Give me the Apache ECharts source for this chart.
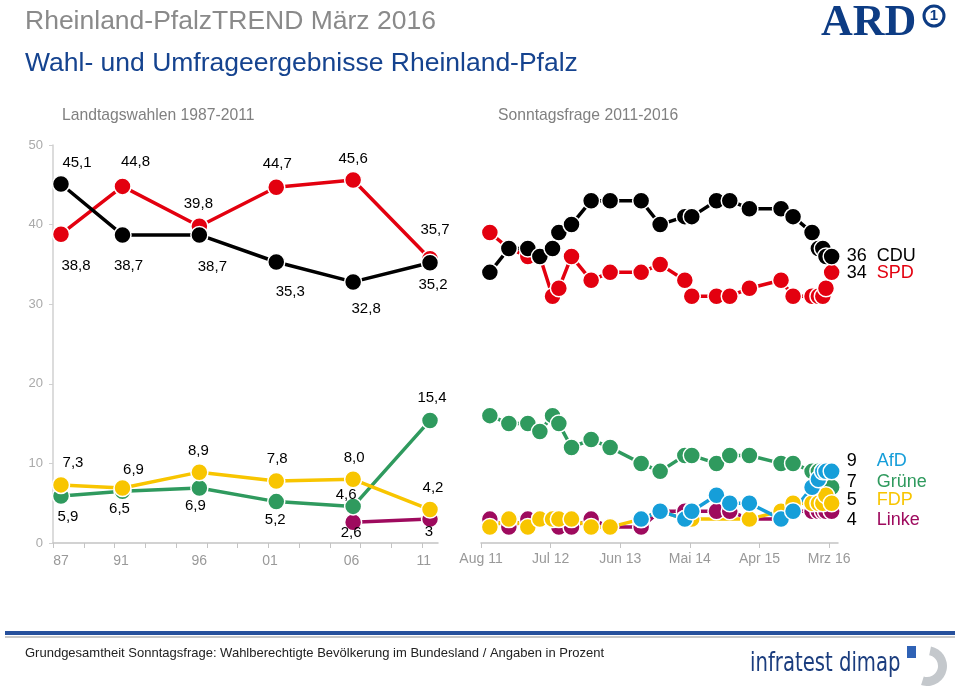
<!DOCTYPE html>
<html><head><meta charset="utf-8">
<script src="https://cdn.jsdelivr.net/npm/echarts@6/dist/echarts.min.js"></script>
<style>html,body{margin:0;padding:0;background:#fff}#c{width:960px;height:686px}</style>
</head><body><div id="c"></div>
<script>
// ---- data ----
const electionYears = [1987, 1991, 1996, 2001, 2006, 2011];
const electionTickLabels = ['87', '91', '96', '01', '06', '11'];
const electionTickPos = [1987, 1990.9, 1996, 2000.6, 2005.9, 2010.6];
const cduElection = [45.1, 38.7, 38.7, 35.3, 32.8, 35.2];
const spdElection = [38.8, 44.8, 39.8, 44.7, 45.6, 35.7];
const fdpElection = [7.3, 6.9, 8.9, 7.8, 8.0, 4.2];
const grueneElection = [5.9, 6.5, 6.9, 5.2, 4.6, 15.4];
const linkeElection = [null, null, null, null, 2.6, 3];

// poll dates as months after Aug 2011
const pollMonths = [1.4, 4.4, 7.4, 9.3, 11.3, 12.3, 14.3, 17.4, 20.4, 25.3, 28.3, 32.2, 33.3, 37.2, 39.3, 42.4, 47.4, 49.3, 52.3, 53.3, 54.0, 54.5, 55.4];
const cduPoll = [34, 37, 37, 36, 37, 39, 40, 43, 43, 43, 40, 41, 41, 43, 43, 42, 42, 41, 39, 37, 37, 36, 36];
const spdPoll = [39, 37, 36, 36, 31, 32, 36, 33, 34, 34, 35, 33, 31, 31, 31, 32, 33, 31, 31, 31, 31, 32, 34];
const gruenePoll = [16, 15, 15, 14, 16, 15, 12, 13, 12, 10, 9, 11, 11, 10, 11, 11, 10, 10, 9, 9, 9, 9, 7];
const fdpPoll = [2, 3, 2, 3, 3, 3, 3, 2, 2, 3, 4, 3, 3, null, null, 3, 4, 5, 5, 5, 5, 6, 5];
const linkePoll = [3, 2, 3, 3, 3, 2, 2, 3, 2, 2, 4, 4, 4, 4, 4, 3, 3, 4, 4, 4, 4, 4, 4];
const afdPoll = [null, null, null, null, null, null, null, null, null, 3, 4, 3, 4, 6, 5, 5, 3, 4, 7, 8, 9, 9, 9];
const pollTickMonths = [0, 11, 22, 33, 44, 55];
const pollTickLabels = ['Aug 11', 'Jul 12', 'Jun 13', 'Mai 14', 'Apr 15', 'Mrz 16'];

// ---- styling ----
const COL = { cdu: '#000000', spd: '#e3000f', gruene: '#2f9a5e', fdp: '#f8c500', linke: '#9e0a5e', afd: '#169ed9' };
const FONT = '"Liberation Sans", Arial, Helvetica, sans-serif';
const labelOffsets = {
  cdu: [[16, -21], [6, 31], [13, 32], [14, 30], [13, 27], [3, 22]],
  spd: [[15, 32], [13, -25], [-1, -22], [1, -23], [0, -21], [5, -29]],
  fdp: [[12, -22], [11, -18], [-1, -21], [1, -22], [1, -21], [3, -22]],
  gruene: [[7, 21], [-3, 18], [-4, 18], [-1, 18], [-7, -12], [2, -23]],
  linke: [null, null, null, null, [-2, 11], [-1, 13]]
};
const endOffsets = { cdu: 0, spd: 1, afd: -10, gruene: -5, fdp: -3, linke: 9 };
const endNames = { cdu: 'CDU', spd: 'SPD', afd: 'AfD', gruene: 'Grüne', fdp: 'FDP', linke: 'Linke' };

const fmtDec = v => v.toFixed(1).replace('.', ',');
const fmtPlain = v => String(v).replace('.', ',');

function electionSeries(key, vals, fmt) {
  return {
    type: 'line', xAxisIndex: 0, yAxisIndex: 0,
    data: electionYears.map((y, i) => vals[i] == null ? [y, null] : {
      value: [y, vals[i]],
      label: { show: true, position: 'inside', offset: labelOffsets[key][i], formatter: fmt(vals[i]) }
    }),
    symbol: 'circle', symbolSize: 17,
    itemStyle: { color: COL[key], borderColor: '#fff', borderWidth: 1.5 },
    lineStyle: { color: COL[key], width: 3.5 },
    label: { color: '#000', fontSize: 15, fontFamily: FONT },
    emphasis: { disabled: true },
    animation: false
  };
}
function pollSeries(key, vals) {
  return {
    type: 'line', xAxisIndex: 1, yAxisIndex: 1,
    data: pollMonths.map((m, i) => [m, vals[i]]),
    connectNulls: true,
    symbol: 'circle', symbolSize: 17,
    itemStyle: { color: COL[key], borderColor: '#fff', borderWidth: 1.5 },
    lineStyle: { color: COL[key], width: 3.5 },
    endLabel: {
      show: true, distance: 15, offset: [0, endOffsets[key]],
      formatter: p => '{n|' + p.value[1] + '}{t|' + endNames[key] + '}',
      rich: {
        n: { color: '#000', fontSize: 18, fontFamily: FONT, width: 30 },
        t: { color: COL[key], fontSize: 18, fontFamily: FONT }
      }
    },
    emphasis: { disabled: true },
    animation: false
  };
}

const chart = echarts.init(document.getElementById('c'));
chart.setOption({
  animation: false,
  backgroundColor: '#fff',
  textStyle: { fontFamily: FONT },
  grid: [
    { left: 53, top: 145, width: 385, height: 398 },
    { left: 481, top: 145, width: 357, height: 398 }
  ],
  xAxis: [
    {
      gridIndex: 0, type: 'value', min: 1986.48, max: 2011.52,
      axisLine: { lineStyle: { color: '#c4c4c4', width: 1.5 } },
      axisTick: { show: true, length: 5, lineStyle: { color: '#c4c4c4', width: 1 },
        customValues: [1986.48, 1988.48, 1990.48, 1992.48, 1994.48, 1996.48, 1998.48, 2000.48, 2002.48, 2004.48, 2006.48, 2008.48, 2010.48] },
      axisLabel: { customValues: electionTickPos, color: '#999', fontSize: 14, margin: 11,
        formatter: v => electionTickLabels[electionTickPos.indexOf(v)] },
      splitLine: { show: false }
    },
    {
      gridIndex: 1, type: 'value', min: 0, max: 56.4,
      axisLine: { lineStyle: { color: '#c4c4c4', width: 1.5 } },
      axisTick: { show: true, length: 5, lineStyle: { color: '#c4c4c4', width: 1 }, customValues: pollTickMonths },
      axisLabel: { customValues: pollTickMonths, color: '#999', fontSize: 14, margin: 9,
        formatter: v => pollTickLabels[pollTickMonths.indexOf(v)] },
      splitLine: { show: false }
    }
  ],
  yAxis: [
    {
      gridIndex: 0, type: 'value', min: 0, max: 50, interval: 10,
      axisLine: { show: true, lineStyle: { color: '#d0d0d0', width: 1.5 } },
      axisTick: { show: true, length: 4, lineStyle: { color: '#d0d0d0' } },
      axisLabel: { color: '#aaa', fontSize: 13, margin: 10 },
      splitLine: { show: false }
    },
    { gridIndex: 1, type: 'value', min: 0, max: 50, show: false, splitLine: { show: false } }
  ],
  series: [
    electionSeries('spd', spdElection, fmtDec),
    electionSeries('cdu', cduElection, fmtDec),
    electionSeries('linke', linkeElection, fmtPlain),
    electionSeries('gruene', grueneElection, fmtDec),
    electionSeries('fdp', fdpElection, fmtDec),
    pollSeries('spd', spdPoll),
    pollSeries('cdu', cduPoll),
    pollSeries('linke', linkePoll),
    pollSeries('gruene', gruenePoll),
    pollSeries('fdp', fdpPoll),
    pollSeries('afd', afdPoll)
  ],
  graphic: [
    { type: 'text', x: 25, y: 22, style: { text: 'Rheinland-PfalzTREND März 2016', font: '26.5px ' + FONT, fill: '#8a8a8a', verticalAlign: 'middle' } },
    { type: 'text', x: 25, y: 64, style: { text: 'Wahl- und Umfrageergebnisse Rheinland-Pfalz', font: '26.5px ' + FONT, fill: '#15438f', verticalAlign: 'middle' } },
    { type: 'text', x: 62, y: 116, style: { text: 'Landtagswahlen 1987-2011', font: '15.7px ' + FONT, fill: '#808080', verticalAlign: 'middle' } },
    { type: 'text', x: 498, y: 116, style: { text: 'Sonntagsfrage 2011-2016', font: '15.7px ' + FONT, fill: '#808080', verticalAlign: 'middle' } },
    { type: 'text', x: 821, y: 24, style: { text: 'ARD', font: 'bold 44px "Liberation Serif", "DejaVu Serif", serif', fill: '#0d3c84', verticalAlign: 'middle' } },
    { type: 'circle', shape: { cx: 934, cy: 16, r: 10 }, style: { fill: '#fff', stroke: '#0d3c84', lineWidth: 3 } },
    { type: 'text', x: 934, y: 16, style: { text: '1', font: 'bold 15px ' + FONT, fill: '#0d3c84', align: 'center', verticalAlign: 'middle' } },
    { type: 'rect', shape: { x: 5, y: 631, width: 950, height: 4 }, style: { fill: '#26509c' } },
    { type: 'rect', shape: { x: 5, y: 636, width: 950, height: 2 }, style: { fill: '#c8c8c8' } },
    { type: 'text', x: 25, y: 653, style: { text: 'Grundgesamtheit Sonntagsfrage: Wahlberechtigte Bevölkerung im Bundesland / Angaben in Prozent', font: '13px ' + FONT, fill: '#222', verticalAlign: 'middle' } },
    { type: 'text', x: 750, y: 664, scaleX: 0.84, style: { text: 'infratest dimap', font: '26px "Liberation Sans Narrow", "DejaVu Sans Condensed", sans-serif', fill: '#1b3d7e', verticalAlign: 'middle' } },
    { type: 'sector', shape: { cx: 927, cy: 666, r: 20, r0: 11, startAngle: -Math.PI / 2 + 0.2, endAngle: Math.PI / 2 + 0.3 }, style: { fill: '#c4c8cc' } },
    { type: 'rect', shape: { x: 907, y: 646, width: 9, height: 12 }, style: { fill: '#2f62b5' } }
  ]
});
</script></body></html>
